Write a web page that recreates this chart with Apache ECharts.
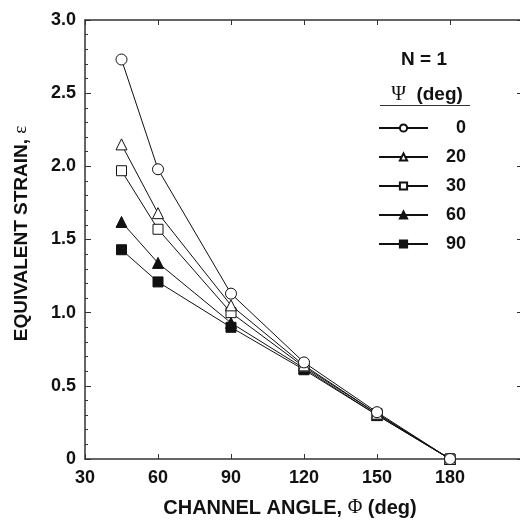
<!DOCTYPE html>
<html>
<head>
<meta charset="utf-8">
<script src="https://cdn.jsdelivr.net/npm/echarts@6/dist/echarts.min.js"></script>
<style>html,body{margin:0;padding:0;background:#fff;}#c{width:520px;height:522px;}</style>
</head>
<body>
<div id="c"></div>
<script>
var channelAngles = [45, 60, 90, 120, 150, 180];
var psiNames = ['0', '20', '30', '60', '90'];
var strainPsi0  = [2.73, 1.98, 1.13, 0.66, 0.32, 0];
var strainPsi20 = [2.15, 1.68, 1.05, 0.64, 0.31, 0];
var strainPsi30 = [1.97, 1.57, 1.00, 0.63, 0.31, 0];
var strainPsi60 = [1.62, 1.34, 0.93, 0.62, 0.30, 0];
var strainPsi90 = [1.43, 1.21, 0.90, 0.61, 0.30, 0];
var xTicks = [30, 60, 90, 120, 150, 180];
var yTicks = ['0', '0.5', '1.0', '1.5', '2.0', '2.5', '3.0'];

var FONT = 'Liberation Sans';
var SERIF = 'Liberation Serif';
var INK = '#111';

function pairs(vals) { return channelAngles.map(function (x, i) { return [x, vals[i]]; }); }

var seriesDefs = [
  { name: '90', data: strainPsi90, symbol: 'rect', size: 10, fill: INK },
  { name: '60', data: strainPsi60, symbol: 'triangle', size: 11, fill: INK },
  { name: '30', data: strainPsi30, symbol: 'rect', size: 10, fill: '#fff' },
  { name: '20', data: strainPsi20, symbol: 'triangle', size: 11, fill: '#fff' },
  { name: '0',  data: strainPsi0,  symbol: 'circle', size: 11, fill: '#fff' }
];

var xNameRich = {
  b: { fontFamily: FONT, fontWeight: 'bold', fontSize: 20, color: INK },
  s: { fontFamily: SERIF, fontWeight: 'normal', fontSize: 20, color: INK }
};
var yNameRich = {
  b: { fontFamily: FONT, fontWeight: 'bold', fontSize: 19, color: INK },
  s: { fontFamily: SERIF, fontWeight: 'normal', fontSize: 19, color: INK }
};

var chart = echarts.init(document.getElementById('c'), null, { renderer: 'canvas' });
chart.setOption({
  backgroundColor: '#fff',
  animation: false,
  grid: { left: 85, width: 438, top: 20, height: 439, containLabel: false, outerBoundsMode: 'none' },
  xAxis: [{
    type: 'value', min: 30, max: 210, interval: 30, position: 'bottom',
    axisLine: { show: true, onZero: false, lineStyle: { color: '#333', width: 1.5 } },
    axisTick: { show: true, inside: true, length: 5, lineStyle: { color: '#333', width: 1 } },
    axisLabel: { show: true, margin: 10, color: INK, fontFamily: FONT, fontWeight: 'bold', fontSize: 18,
      formatter: function (v) { return xTicks.indexOf(v) >= 0 ? String(v) : ''; } },
    splitLine: { show: false },
    name: '{b|CHANNEL ANGLE, }{s|\u03A6}{b| (deg)}', nameLocation: 'middle', nameGap: 39,
    nameTextStyle: { color: INK, fontFamily: FONT, fontWeight: 'bold', fontSize: 20, padding: [0, 28, 0, 0], rich: xNameRich }
  }, {
    type: 'value', min: 30, max: 210, interval: 30, position: 'top',
    axisLine: { show: true, onZero: false, lineStyle: { color: '#333', width: 1.5 } },
    axisTick: { show: true, inside: true, length: 5, lineStyle: { color: '#333', width: 1 } },
    axisLabel: { show: false }, splitLine: { show: false }
  }],
  yAxis: [{
    type: 'value', min: 0, max: 3, interval: 0.5, position: 'left',
    axisLine: { show: true, onZero: false, lineStyle: { color: '#333', width: 1.5 } },
    axisTick: { show: true, inside: true, length: 6, lineStyle: { color: '#333', width: 1 } },
    minorTick: { show: true, splitNumber: 5, length: 3, lineStyle: { color: '#333', width: 1 } },
    axisLabel: { show: true, margin: 9, color: INK, fontFamily: FONT, fontWeight: 'bold', fontSize: 18,
      formatter: function (v) { var i = Math.round(v * 2); return yTicks[i] !== undefined ? yTicks[i] : ''; } },
    splitLine: { show: false },
    name: '{b|EQUIVALENT STRAIN, }{s|\u03B5}', nameLocation: 'middle', nameGap: 54,
    nameTextStyle: { color: INK, fontFamily: FONT, fontWeight: 'bold', fontSize: 19, padding: [0, 0, 0, 12], rich: yNameRich }
  }, {
    type: 'value', min: 0, max: 3, interval: 0.5, position: 'right',
    axisLine: { show: true, onZero: false, lineStyle: { color: '#333', width: 1.5 } },
    axisTick: { show: true, inside: true, length: 6, lineStyle: { color: '#333', width: 1 } },
    axisLabel: { show: false }, splitLine: { show: false }
  }],
  legend: {
    orient: 'vertical', left: 378, top: 119, padding: 0,
    data: psiNames,
    itemWidth: 49, itemHeight: 9, itemGap: 11,
    selectedMode: false,
    formatter: '{a|{name}}',
    textStyle: { color: INK, fontFamily: FONT, fontWeight: 'bold', fontSize: 18, lineHeight: 18,
      rich: { a: { width: 33, align: 'right', fontFamily: FONT, fontWeight: 'bold', fontSize: 18, lineHeight: 18, color: INK } } }
  },
  graphic: [
    { type: 'text', x: 424, y: 60, style: { text: 'N = 1', fill: INK, font: 'bold 19px "Liberation Sans"', align: 'center', verticalAlign: 'middle' } },
    { type: 'text', x: 427, y: 95, style: {
        text: '{s|\u03A8}{b|  (deg)}', align: 'center', verticalAlign: 'middle',
        rich: {
          s: { font: '20px "Liberation Serif"', fill: INK },
          b: { font: 'bold 19px "Liberation Sans"', fill: INK }
        } } },
    { type: 'line', shape: { x1: 380, y1: 105.5, x2: 470, y2: 105.5 }, style: { stroke: '#333', lineWidth: 1 } }
  ],
  series: seriesDefs.map(function (d) {
    return {
      name: d.name, type: 'line', data: pairs(d.data),
      symbol: d.symbol, symbolSize: d.size, showAllSymbol: true,
      lineStyle: { color: INK, width: 1 },
      itemStyle: { color: d.fill, borderColor: INK, borderWidth: 1 },
      emphasis: { disabled: true },
      z: 3
    };
  })
});
</script>
</body>
</html>
